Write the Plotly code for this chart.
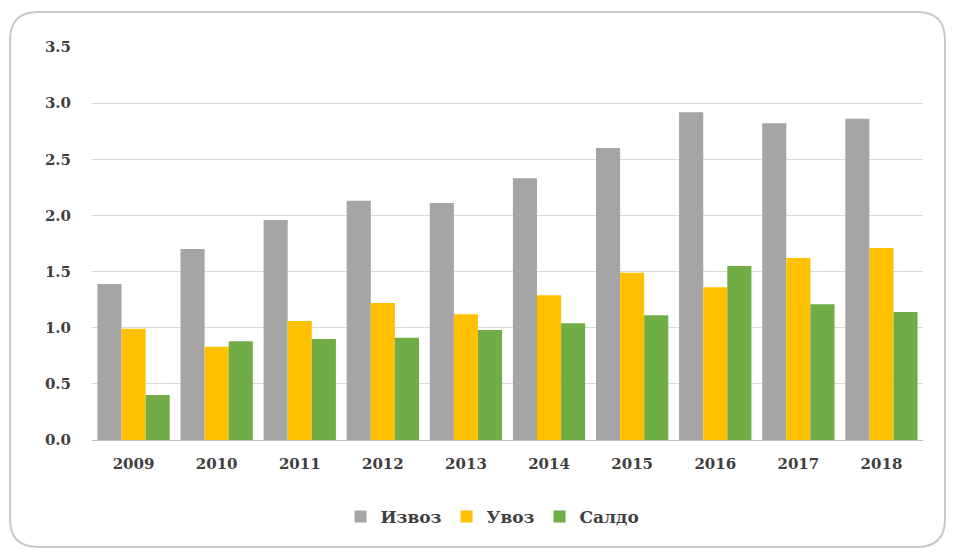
import plotly.graph_objects as go

years = ["2009", "2010", "2011", "2012", "2013", "2014", "2015", "2016", "2017", "2018"]
izvoz = [1.39, 1.70, 1.96, 2.13, 2.11, 2.33, 2.60, 2.92, 2.82, 2.86]
uvoz = [0.99, 0.83, 1.06, 1.22, 1.12, 1.29, 1.49, 1.36, 1.62, 1.71]
saldo = [0.40, 0.88, 0.90, 0.91, 0.98, 1.04, 1.11, 1.55, 1.21, 1.14]
y_ticks = [0.0, 0.5, 1.0, 1.5, 2.0, 2.5, 3.0, 3.5]

OFF = 8  # page body margin
W, H = 955 - OFF, 553 - OFF
L, R, T, B = 92 - OFF, 32, 47 - OFF, 113
pw, ph = W - L - R, H - T - B

font_fam = "DejaVu Serif"
txt_col = "#404040"

fig = go.Figure()
fig.add_bar(x=years, y=izvoz, name="Извоз", marker=dict(color="#A5A5A5", line=dict(width=0)))
fig.add_bar(x=years, y=uvoz, name="Увоз", marker=dict(color="#FFC000", line=dict(width=0)))
fig.add_bar(x=years, y=saldo, name="Салдо", marker=dict(color="#70AD47", line=dict(width=0)))

# rounded border (page pixel coords converted to paper coords)
def px_x(p):
    return (p - OFF - L) / pw

def px_y(p):
    return (H - B - (p - OFF)) / ph

x0, x1, y0, y1, r = 10, 945, 12, 547, 28
path = (
    f"M {px_x(x0 + r)} {px_y(y0)} L {px_x(x1 - r)} {px_y(y0)} "
    f"Q {px_x(x1)} {px_y(y0)} {px_x(x1)} {px_y(y0 + r)} "
    f"L {px_x(x1)} {px_y(y1 - r)} "
    f"Q {px_x(x1)} {px_y(y1)} {px_x(x1 - r)} {px_y(y1)} "
    f"L {px_x(x0 + r)} {px_y(y1)} "
    f"Q {px_x(x0)} {px_y(y1)} {px_x(x0)} {px_y(y1 - r)} "
    f"L {px_x(x0)} {px_y(y0 + r)} "
    f"Q {px_x(x0)} {px_y(y0)} {px_x(x0 + r)} {px_y(y0)} Z"
)
fig.add_shape(type="path", path=path, xref="paper", yref="paper",
              line=dict(color="#C8C8C8", width=2), layer="below")

fig.update_layout(
    width=W, height=H,
    margin=dict(l=L, r=R, t=T, b=B),
    paper_bgcolor="white", plot_bgcolor="white",
    barmode="group", bargap=0.13, bargroupgap=0,
    font=dict(family=font_fam, size=14, color=txt_col),
    showlegend=True,
    legend=dict(orientation="h", x=0.482, xanchor="center", y=-0.15, yanchor="top",
                font=dict(family=font_fam, size=17, color=txt_col, weight="bold"),
                itemwidth=30, traceorder="normal"),
)
fig.update_xaxes(showgrid=False, showline=True, linecolor="#BFBFBF", linewidth=1,
                 ticks="", ticklabelstandoff=10,
                 tickfont=dict(family=font_fam, size=15, color=txt_col, weight="bold"))
fig.update_yaxes(range=[0, 3.5], tickvals=y_ticks, ticktext=[f"{v:.1f}" for v in y_ticks],
                 showgrid=True, gridcolor="#D9D9D9", gridwidth=1, zeroline=False,
                 showline=False, ticks="", ticklabelstandoff=20,
                 tickfont=dict(family=font_fam, size=15, color=txt_col, weight="bold"))

fig.write_html("out.html")
